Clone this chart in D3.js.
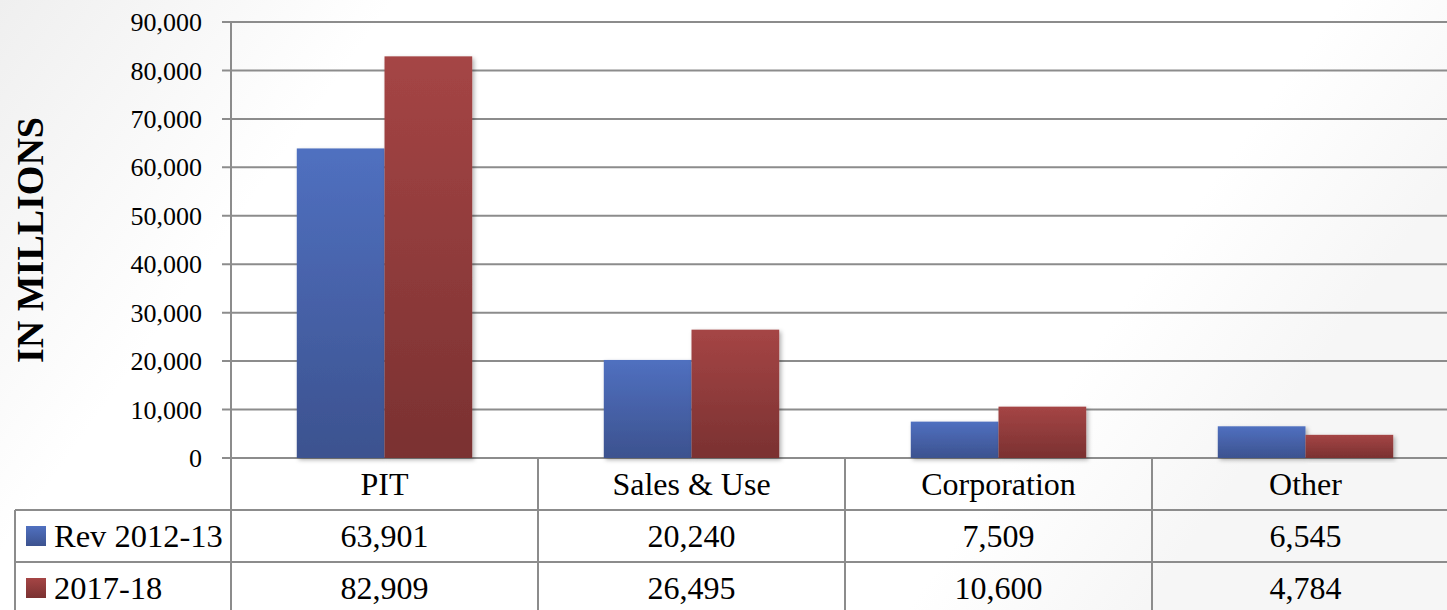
<!DOCTYPE html>
<html lang="en">
<head>
    <meta charset="UTF-8">
    <title>Revenue by Source</title>
    <script src="https://d3js.org/d3.v7.min.js" charset="utf-8"></script>
    <style>
        body { margin: 0; overflow: hidden; }
        svg { display: block; }
    </style>
</head>
<body>
    <div id="chart"></div>
    <script>

    // chart data
    var categories = ['PIT', 'Sales & Use', 'Corporation', 'Other'];
    var seriesNames = ['Rev 2012-13', '2017-18'];
    var rev2012 = [63901, 20240, 7509, 6545];
    var rev2017 = [82909, 26495, 10600, 4784];
    var yTicks = [0, 10000, 20000, 30000, 40000, 50000, 60000, 70000, 80000, 90000];

    var svgWidth = 1447;
    var svgHeight = 610;
    var fontFam = '"Liberation Serif", "DejaVu Serif", serif';

    // plot area (note: "top" is reserved on window, so prefixed names)
    var plotLeft = 231, plotRight = 1459, plotTop = 22, plotBottom = 458;
    var rowH = 52;
    var tableLeft = 15;

    var svg = d3.select('#chart')
                .append('svg')
                .attr('width', svgWidth)
                .attr('height', svgHeight);

    var defs = svg.append('defs');

    // soft grey background
    var bg = defs.append('linearGradient').attr('id', 'bg')
        .attr('x1', 0).attr('y1', 0).attr('x2', 1).attr('y2', 0.3);
    bg.append('stop').attr('offset', '0%').attr('stop-color', '#efefef');
    bg.append('stop').attr('offset', '25%').attr('stop-color', '#ffffff');
    bg.append('stop').attr('offset', '85%').attr('stop-color', '#ffffff');
    bg.append('stop').attr('offset', '100%').attr('stop-color', '#f6f6f6');
    svg.append('rect').attr('width', svgWidth).attr('height', svgHeight).attr('fill', 'url(#bg)');

    var colors = [['#5070c0', '#3c528f'], ['#a54545', '#7a3131']];
    colors.forEach(function(c, i) {
        var gr = defs.append('linearGradient').attr('id', 'g' + i)
            .attr('x1', 0).attr('y1', 0).attr('x2', 0).attr('y2', 1);
        gr.append('stop').attr('offset', '0%').attr('stop-color', c[0]);
        gr.append('stop').attr('offset', '100%').attr('stop-color', c[1]);
    });

    var shadow = defs.append('filter').attr('id', 'shadow')
        .attr('x', '-10%').attr('y', '-10%').attr('width', '130%').attr('height', '130%');
    shadow.append('feDropShadow').attr('dx', 2).attr('dy', 2).attr('stdDeviation', 2)
        .attr('flood-color', '#000').attr('flood-opacity', 0.3);

    var x_scale = d3.scaleBand().domain(categories).range([plotLeft, plotRight]);
    var sub_scale = d3.scaleBand().domain(seriesNames)
        .range([0, x_scale.bandwidth()]).paddingOuter(0.75);
    var y_scale = d3.scaleLinear().domain([0, 90000]).range([plotBottom, plotTop]);

    var g = svg.append('g');

    // gridlines
    g.selectAll('.grid').data(yTicks).enter().append('line')
        .attr('x1', plotLeft - 9).attr('x2', plotRight)
        .attr('y1', function(d) { return y_scale(d); })
        .attr('y2', function(d) { return y_scale(d); })
        .attr('stroke', '#8c8c8c').attr('stroke-width', 2);

    // tick labels
    g.selectAll('.tick-label').data(yTicks).enter().append('text')
        .attr('x', plotLeft - 29)
        .attr('y', function(d) { return y_scale(d); })
        .attr('dy', '0.35em')
        .attr('text-anchor', 'end')
        .style('font-family', fontFam).style('font-size', '26px')
        .attr('fill', '#000')
        .text(function(d) { return d3.format(',')(d); });

    // bars
    var series = [rev2012, rev2017];
    series.forEach(function(vals, si) {
        g.selectAll('.bar' + si).data(vals).enter().append('rect')
            .attr('x', function(d, i) { return x_scale(categories[i]) + sub_scale(seriesNames[si]); })
            .attr('y', function(d) { return y_scale(d); })
            .attr('width', sub_scale.bandwidth())
            .attr('height', function(d) { return plotBottom - y_scale(d); })
            .attr('fill', 'url(#g' + si + ')')
            .attr('filter', 'url(#shadow)');
    });

    // data table lines
    var lineColor = '#8c8c8c';
    [plotBottom + rowH, plotBottom + 2 * rowH].forEach(function(y) {
        g.append('line').attr('x1', tableLeft).attr('x2', plotRight)
            .attr('y1', y).attr('y2', y)
            .attr('stroke', lineColor).attr('stroke-width', 2);
    });
    g.append('line').attr('x1', tableLeft).attr('x2', tableLeft)
        .attr('y1', plotBottom + rowH).attr('y2', svgHeight)
        .attr('stroke', lineColor).attr('stroke-width', 2);
    // y axis line
    g.append('line').attr('x1', plotLeft).attr('x2', plotLeft)
        .attr('y1', plotTop).attr('y2', svgHeight)
        .attr('stroke', lineColor).attr('stroke-width', 2);
    // column separators
    g.selectAll('.col').data(categories.slice(1)).enter().append('line')
        .attr('x1', function(d) { return x_scale(d); })
        .attr('x2', function(d) { return x_scale(d); })
        .attr('y1', plotBottom).attr('y2', svgHeight)
        .attr('stroke', lineColor).attr('stroke-width', 2);

    // category names
    g.selectAll('.cat').data(categories).enter().append('text')
        .attr('x', function(d) { return x_scale(d) + x_scale.bandwidth() / 2; })
        .attr('y', plotBottom + rowH / 2)
        .attr('dy', '0.35em')
        .attr('text-anchor', 'middle')
        .style('font-family', fontFam).style('font-size', '32px')
        .text(function(d) { return d; });

    // table rows
    series.forEach(function(vals, si) {
        var yMid = plotBottom + rowH * (si + 1) + rowH / 2;
        g.append('rect')
            .attr('x', 26).attr('y', yMid - 10)
            .attr('width', 20).attr('height', 20)
            .attr('fill', 'url(#g' + si + ')');
        g.append('text')
            .attr('x', 54).attr('y', yMid).attr('dy', '0.35em')
            .style('font-family', fontFam).style('font-size', '32.5px')
            .text(seriesNames[si]);
        g.selectAll('.val' + si).data(vals).enter().append('text')
            .attr('x', function(d, i) { return x_scale(categories[i]) + x_scale.bandwidth() / 2; })
            .attr('y', yMid).attr('dy', '0.35em')
            .attr('text-anchor', 'middle')
            .style('font-family', fontFam).style('font-size', '32px')
            .text(function(d) { return d3.format(',')(d); });
    });

    // y axis title
    svg.append('text')
        .attr('transform', 'translate(43, 240) rotate(-90)')
        .attr('text-anchor', 'middle')
        .style('font-family', fontFam).style('font-size', '38px')
        .style('font-weight', 'bold')
        .text('IN MILLIONS');

    </script>
</body>
</html>
